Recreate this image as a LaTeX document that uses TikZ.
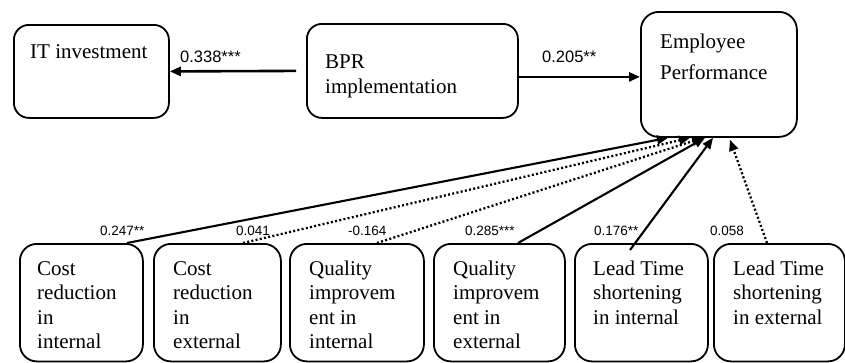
\documentclass[tikz,border=0pt]{standalone}
\usepackage{fontspec}
\setmainfont{Liberation Serif}
\setsansfont{Liberation Sans}
\usetikzlibrary{arrows.meta,calc}
\begin{document}
\begin{tikzpicture}[x=1pt,y=-1pt,
  box/.style={draw,line width=1.8pt,rounded corners=15pt,anchor=north west,inner sep=0pt},
  txt/.style={anchor=base west,inner sep=0pt,font=\fontsize{21}{24.5}\selectfont},
  lbltop/.style={anchor=base west,inner sep=0pt,font=\sffamily\fontsize{16.5}{18}\selectfont},
  lblbot/.style={anchor=base west,inner sep=0pt,font=\sffamily\fontsize{13.5}{15}\selectfont},
  arr/.style={-{Triangle[length=11pt,width=9pt]}},
  toparrow/.style={arr,line width=2.6pt},
  solidarrow/.style={arr,line width=2.1pt},
  dotarrow/.style={arr,line width=2.3pt,dash pattern=on 2pt off 2.3pt}
]
\useasboundingbox (0,0) rectangle (845,362);
% top boxes
\node[box,minimum width=155pt,minimum height=93pt] (it) at (13,24) {};
\node[box,minimum width=211pt,minimum height=94pt] (bpr) at (306,23) {};
\node[box,minimum width=156pt,minimum height=125pt,rounded corners=18pt] (ep) at (640,11) {};
\node[txt] (itt) at ($(it.north west)+(17,34)$) {IT investment};
\node[txt,font=\fontsize{21}{25}\selectfont] (bprt) at ($(bpr.north west)+(19,45)$) {\begin{tabular}[t]{@{}l@{}}BPR\\implementation\end{tabular}};
\node[txt,font=\fontsize{21}{31}\selectfont] (ept) at ($(ep.north west)+(20,37)$) {\begin{tabular}[t]{@{}l@{}}Employee\\Performance\end{tabular}};
% bottom boxes
\node[box,rounded corners=17pt,minimum width=123pt,minimum height=117.5pt] (b1) at (19,243) {};
\node[box,rounded corners=17pt,minimum width=127pt,minimum height=117.5pt] (b2) at (153,243) {};
\node[box,rounded corners=17pt,minimum width=134pt,minimum height=117.5pt] (b3) at (289,243) {};
\node[box,rounded corners=17pt,minimum width=131pt,minimum height=117.5pt] (b4) at (433,243) {};
\node[box,rounded corners=17pt,minimum width=133pt,minimum height=117.5pt] (b5) at (574,243) {};
\node[box,rounded corners=17pt,minimum width=131pt,minimum height=117.5pt] (b6) at (713,243) {};
\node[txt] (b1t) at ($(b1.north west)+(18,32)$) {\begin{tabular}[t]{@{}l@{}}Cost\\reduction\\in\\internal\end{tabular}};
\node[txt] (b2t) at ($(b2.north west)+(20,32)$) {\begin{tabular}[t]{@{}l@{}}Cost\\reduction\\in\\external\end{tabular}};
\node[txt] (b3t) at ($(b3.north west)+(20,32)$) {\begin{tabular}[t]{@{}l@{}}Quality\\improvem\\ent in\\internal\end{tabular}};
\node[txt] (b4t) at ($(b4.north west)+(20,32)$) {\begin{tabular}[t]{@{}l@{}}Quality\\improvem\\ent in\\external\end{tabular}};
\node[txt] (b5t) at ($(b5.north west)+(19,32)$) {\begin{tabular}[t]{@{}l@{}}Lead Time\\shortening\\in internal\end{tabular}};
\node[txt] (b6t) at ($(b6.north west)+(20,32)$) {\begin{tabular}[t]{@{}l@{}}Lead Time\\shortening\\in external\end{tabular}};
% top connectors
\draw[toparrow] ($(bpr.west)+(-10,0)$) -- (it.east);
\draw[toparrow] ($(bpr.east)+(0,6)$) -- ($(ep.west)+(0,2.5)$);
\node[lbltop] (l1) at (180,62) {0.338***};
\node[lbltop] (l2) at (542,62) {0.205**};
% bottom connectors
\draw[solidarrow] ($(b1.north west)+(108,0)$) -- ($(ep.south west)+(28,0)$);
\draw[dotarrow] ($(b2.north west)+(90,0)$) -- ($(ep.south west)+(50,0)$);
\draw[dotarrow] ($(b3.north west)+(88,0)$) -- ($(ep.south west)+(63,0)$);
\draw[solidarrow] ($(b4.north west)+(85,0)$) -- ($(ep.south west)+(65,0)$);
\draw[solidarrow] ($(b5.north west)+(56,7)$) -- ($(ep.south west)+(73,0)$);
\draw[dotarrow] ($(b6.north west)+(54,0)$) -- ($(ep.south west)+(90,2)$);
\node[lblbot] (m1) at (100,235) {0.247**};
\node[lblbot] (m2) at (236,235) {0.041};
\node[lblbot] (m3) at (348,235) {-0.164};
\node[lblbot] (m4) at (465,235) {0.285***};
\node[lblbot] (m5) at (594,235) {0.176**};
\node[lblbot] (m6) at (710,235) {0.058};
\end{tikzpicture}
\end{document}
